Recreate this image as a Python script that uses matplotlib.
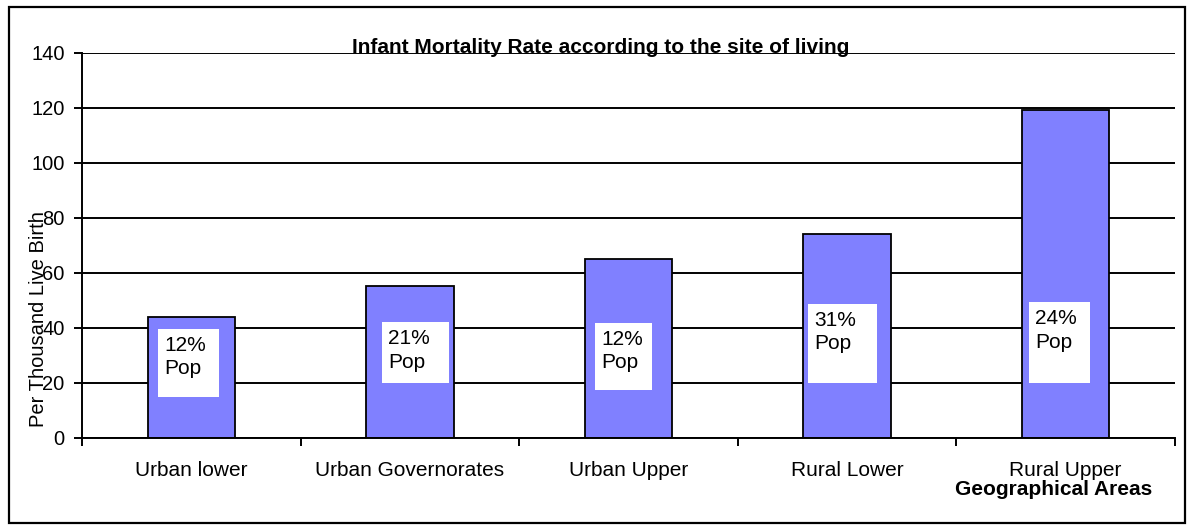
import matplotlib
matplotlib.use('Agg')
import matplotlib.pyplot as plt
from matplotlib.patches import Rectangle

areas = ['Urban lower', 'Urban Governorates', 'Urban Upper', 'Rural Lower', 'Rural Upper']
rates = [44, 55, 65, 74, 119]
pop_share = ['12%', '21%', '12%', '31%', '24%']

# label box layout: (left offset, right offset, bottom, top) relative to bar index
box_layout = [(-0.152, 0.127, 14.9, 39.5),
              (-0.128, 0.179, 20.0, 42.0),
              (-0.153, 0.106, 17.5, 41.7),
              (-0.179, 0.137, 20.0, 48.6),
              (-0.168, 0.111, 20.0, 49.3)]

plt.rcParams['font.family'] = ['Liberation Sans', 'DejaVu Sans']

fig = plt.figure(figsize=(11.88, 5.25), dpi=100)
ax = fig.add_axes([0.069, 0.1663, 0.92, 0.7333])

x = list(range(len(areas)))
ax.set_axisbelow(True)
ax.yaxis.grid(True, color='black', lw=1.4)
ax.bar(x, rates, width=0.40, color='#8080FF', edgecolor='black', lw=1.3, zorder=2)

for i, (l, r, b, t) in enumerate(box_layout):
    ax.add_patch(Rectangle((i + l, b), r - l, t - b, facecolor='white', edgecolor='none', zorder=3))
    ax.text(i + l + 0.030, t - 2.4, pop_share[i] + '\nPop', fontsize=15, va='top', ha='left',
            linespacing=1.32, zorder=4)

ax.set_xlim(-0.5, len(areas) - 0.5)
ax.set_ylim(0, 140)
ax.set_yticks(range(0, 141, 20))
ax.set_xticks(x)
ax.set_xticklabels(areas, fontsize=15)
ax.set_xticks([i - 0.5 for i in range(len(areas) + 1)], minor=True)
ax.tick_params(axis='x', which='major', length=0, pad=17)
ax.tick_params(axis='x', which='minor', length=6, width=1.4, direction='out')
ax.tick_params(axis='y', length=6, width=1.4, labelsize=14.5, pad=6.5)
for s in ['top', 'right']:
    ax.spines[s].set_visible(False)
for s in ['left', 'bottom']:
    ax.spines[s].set_linewidth(1.4)

fig.text(0.0325, 0.392, 'Per Thousand Live Birth', fontsize=14.5, rotation=90, ha='center', va='center')
fig.text(0.506, 0.899, 'Infant Mortality Rate according to the site of living',
         fontsize=15, fontweight='bold', ha='center', va='baseline')
fig.text(0.970, 0.067, 'Geographical Areas', fontsize=15, fontweight='bold', ha='right', va='center')

fig.patches.append(Rectangle((9 / 1188, 2 / 525), 1176 / 1188, 516 / 525, transform=fig.transFigure,
                             fill=False, edgecolor='black', lw=1.6))

fig.savefig('out.png', dpi=100)
